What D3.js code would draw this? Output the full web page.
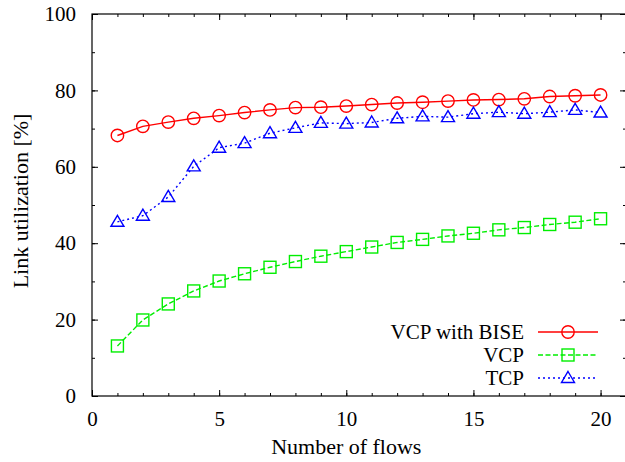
<!DOCTYPE html>
<html>
<head>
<meta charset="utf-8">
<script src="https://cdn.jsdelivr.net/npm/d3@7"></script>
<style>
  body { margin: 0; background: #fff; }
</style>
</head>
<body>
<div id="chart"></div>
<script>
// data
const flows = d3.range(1, 21);
const bise = [68.2, 70.6, 71.7, 72.7, 73.4, 74.2, 74.9, 75.5, 75.6, 75.9,
              76.3, 76.7, 76.9, 77.2, 77.5, 77.6, 77.8, 78.4, 78.6, 78.8];
const vcp  = [13.1, 19.9, 24.1, 27.5, 30.1, 32.0, 33.7, 35.2, 36.6, 37.8,
              39.0, 40.2, 41.0, 41.9, 42.6, 43.5, 44.1, 44.9, 45.5, 46.4];
const tcp  = [45.6, 47.2, 52.1, 60.1, 65.0, 66.2, 68.8, 70.2, 71.5, 71.3,
              71.6, 72.7, 73.2, 73.0, 73.9, 74.3, 73.9, 74.3, 74.9, 74.2];
const seriesNames = ["VCP with BISE", "VCP", "TCP"];
const xTicks = [0, 5, 10, 15, 20];
const yTicks = [0, 20, 40, 60, 80, 100];

const FONT = "'Liberation Serif', 'DejaVu Serif', serif";

const W = 625, H = 462;
const margin = { top: 14, right: -1, bottom: 66, left: 92 };
const width = W - margin.left - margin.right;
const height = H - margin.top - margin.bottom;

const svg = d3.select("#chart").append("svg")
  .attr("width", W).attr("height", H)
  .append("g")
  .attr("transform", `translate(${margin.left},${margin.top})`);

const x = d3.scaleLinear().domain([0, 21]).range([0, width]);
const y = d3.scaleLinear().domain([0, 100]).range([height, 0]);

// ticks (gnuplot style: inward, mirrored)
function styleAxis(g) {
  g.attr("font-family", null).attr("font-size", null);
  g.select(".domain").remove();
  g.selectAll("line").attr("stroke", "#000");
  g.selectAll("text")
    .attr("fill", "#000")
    .style("font-family", FONT)
    .style("font-size", "21px");
}
const minorX = d3.range(0, 22);
const minorY = d3.range(0, 101, 10);

svg.append("g").attr("transform", `translate(0,${height})`)
  .call(d3.axisBottom(x).tickValues(minorX).tickSize(-3).tickFormat(""))
  .call(styleAxis);
svg.append("g").attr("transform", `translate(0,${height})`)
  .call(d3.axisBottom(x).tickValues(xTicks).tickSize(-6).tickPadding(15))
  .call(styleAxis);
svg.append("g")
  .call(d3.axisTop(x).tickValues(minorX).tickSize(-3).tickFormat(""))
  .call(styleAxis);
svg.append("g")
  .call(d3.axisTop(x).tickValues(xTicks).tickSize(-6).tickFormat(""))
  .call(styleAxis);

svg.append("g")
  .call(d3.axisLeft(y).tickValues(minorY).tickSize(-3).tickFormat(""))
  .call(styleAxis);
svg.append("g")
  .call(d3.axisLeft(y).tickValues(yTicks).tickSize(-6).tickPadding(16))
  .call(styleAxis);
svg.append("g").attr("transform", `translate(${width},0)`)
  .call(d3.axisRight(y).tickValues(minorY).tickSize(-3).tickFormat(""))
  .call(styleAxis);
svg.append("g").attr("transform", `translate(${width},0)`)
  .call(d3.axisRight(y).tickValues(yTicks).tickSize(-6).tickFormat(""))
  .call(styleAxis);

// frame
svg.append("rect")
  .attr("x", 0).attr("y", 0)
  .attr("width", width).attr("height", height)
  .attr("fill", "none").attr("stroke", "#000").attr("stroke-width", 1.2);

// axis labels
svg.append("text")
  .attr("x", x(10)).attr("y", height + 58)
  .attr("text-anchor", "middle")
  .style("font-family", FONT).style("font-size", "22px")
  .text("Number of flows");

svg.append("text")
  .attr("transform", "rotate(-90)")
  .attr("x", -y(50) + 4).attr("y", -margin.left + 28)
  .attr("text-anchor", "middle")
  .style("font-family", FONT).style("font-size", "22px")
  .text("Link utilization [%]");

// series
const series = [
  { name: seriesNames[0], values: bise, color: "#ff0000", dash: null, shape: "circle" },
  { name: seriesNames[1], values: vcp, color: "#00ee00", dash: "5,2.5", shape: "square" },
  { name: seriesNames[2], values: tcp, color: "#0000ff", dash: "2,3", shape: "triangle" }
];

const line = d3.line()
  .x((d, i) => x(flows[i]))
  .y(d => y(d));

function drawMarker(g, shape, color) {
  if (shape === "circle") {
    g.append("circle").attr("r", 6.2);
  } else if (shape === "square") {
    g.append("rect").attr("x", -6).attr("y", -6).attr("width", 12).attr("height", 12);
  } else {
    g.append("path").attr("d", "M0,-6.5L6.5,4.5L-6.5,4.5Z");
  }
  g.selectAll("*").attr("fill", "none").attr("stroke", color).attr("stroke-width", 1.4);
}

series.forEach(s => {
  svg.append("path")
    .datum(s.values)
    .attr("fill", "none")
    .attr("stroke", s.color)
    .attr("stroke-width", 1.4)
    .attr("stroke-dasharray", s.dash)
    .attr("d", line);

  s.values.forEach((v, i) => {
    const g = svg.append("g")
      .attr("transform", `translate(${x(flows[i])},${y(v)})`);
    drawMarker(g, s.shape, s.color);
  });
});

// legend
const legend = svg.append("g")
  .attr("transform", `translate(${524 - margin.left},${332 - margin.top})`);

series.forEach((s, i) => {
  const row = legend.append("g").attr("transform", `translate(0,${i * 23})`);
  row.append("text")
    .attr("x", 0).attr("y", 0).attr("dy", "0.33em")
    .attr("text-anchor", "end")
    .style("font-family", FONT).style("font-size", "21px")
    .text(s.name);
  row.append("line")
    .attr("x1", 14).attr("x2", 74)
    .attr("stroke", s.color)
    .attr("stroke-width", 1.4)
    .attr("stroke-dasharray", s.dash);
  const m = row.append("g").attr("transform", "translate(44,0)");
  drawMarker(m, s.shape, s.color);
});
</script>
</body>
</html>
